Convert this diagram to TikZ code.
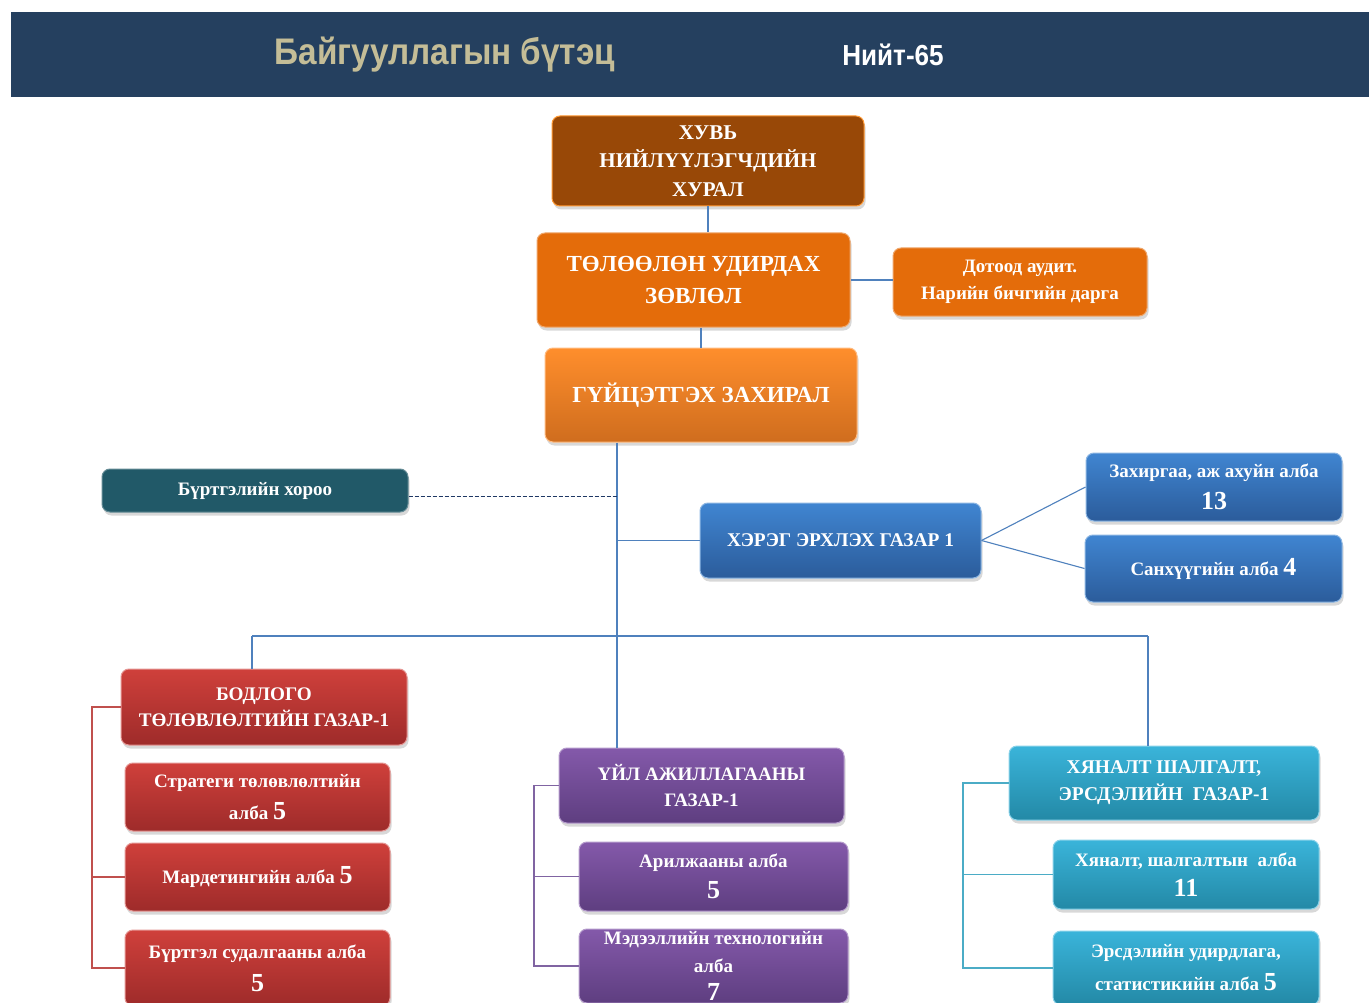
\documentclass[tikz,border=0pt]{standalone}
\usepackage{fontspec}
\setmainfont{Liberation Serif}
\newfontfamily\headfont[FakeStretch=0.9]{Liberation Sans}
\usetikzlibrary{shadows}

\definecolor{band}{HTML}{25405F}
\definecolor{bandtext}{HTML}{C4BD97}
\definecolor{linkblue}{HTML}{4F81BD}
\definecolor{brownfill}{HTML}{984807}
\definecolor{orangefill}{HTML}{E46C0A}
\definecolor{orangetop}{HTML}{FF8E2C}
\definecolor{orangebot}{HTML}{CF6D1E}
\definecolor{tealfill}{HTML}{215968}
\definecolor{bluetop}{HTML}{4085D1}
\definecolor{bluebot}{HTML}{2B5C9B}
\definecolor{redtop}{HTML}{CF403B}
\definecolor{redbot}{HTML}{9E2B2A}
\definecolor{redline}{HTML}{C0504D}
\definecolor{purptop}{HTML}{8459AA}
\definecolor{purpbot}{HTML}{5E3E80}
\definecolor{purpline}{HTML}{8064A2}
\definecolor{cyantop}{HTML}{3AB4DA}
\definecolor{cyanbot}{HTML}{2389A6}
\definecolor{cyanline}{HTML}{4BACC6}
\definecolor{dashnavy}{HTML}{1F3864}

\newcommand\bignum[1]{{\fontsize{26}{30}\selectfont #1}}

\begin{document}
\begin{tikzpicture}[x=1pt, y=-1pt,
  box/.style={rounded corners=8pt, text=white, align=center, inner sep=0pt, line width=1pt,
    drop shadow={shadow xshift=1.5pt, shadow yshift=-3.5pt, opacity=.3}},
  fs/.style 2 args={font=\fontsize{#1}{#2}\selectfont\bfseries},
  brownbox/.style={box, fill=brownfill, draw=orange!80!white},
  orangebox/.style={box, fill=orangefill, draw=orangefill!60!white},
  ambox/.style={box, top color=orangetop, bottom color=orangebot, draw=orangetop!60!white},
  tealbox/.style={box, fill=tealfill, draw=tealfill!70!white},
  bluebox/.style={box, top color=bluetop, bottom color=bluebot, draw=bluetop!60!white},
  redbox/.style={box, top color=redtop, bottom color=redbot, draw=redtop!55!white},
  purpbox/.style={box, top color=purptop, bottom color=purpbot, draw=purptop!60!white},
  cyanbox/.style={box, top color=cyantop, bottom color=cyanbot, draw=cyantop!60!white},
  link/.style={draw=linkblue, line width=1.1pt},
]
  \clip (0,0) rectangle (1369,1003);
  \fill[white] (0,0) rectangle (1369,1003);

  % header band
  \fill[band] (11,12) rectangle (1369,97);
  \node (title) [text=bandtext, font=\headfont\fontsize{37}{42}\selectfont\bfseries] at (445,55) {Байгууллагын бүтэц};
  \node (total) [text=white, font=\headfont\fontsize{29}{32}\selectfont\bfseries] at (893,55) {Нийт-65};

  % top of the tree
  \node (huvi) [brownbox, fs={21}{28.5}, minimum width=312pt, minimum height=90pt] at (708,161)
    {ХУВЬ\\НИЙЛҮҮЛЭГЧДИЙН\\ХУРАЛ};
  \node (tuz) [orangebox, fs={23}{32}, minimum width=313pt, minimum height=94pt] at (693.5,280)
    {ТӨЛӨӨЛӨН УДИРДАХ\\ЗӨВЛӨЛ};
  \node (audit) [orangebox, fs={19}{27}, minimum width=254pt, minimum height=68pt] at (1020,282)
    {Дотоод аудит.\\Нарийн бичгийн дарга};
  \node (gz) [ambox, fs={23}{32}, minimum width=312pt, minimum height=94pt] at (701,395)
    {ГҮЙЦЭТГЭХ ЗАХИРАЛ};
  \node (bur) [tealbox, fs={19}{27}, minimum width=306pt, minimum height=43pt] at (255,490.5)
    {Бүртгэлийн хороо};

  % administration
  \node (herg) [bluebox, fs={19.4}{27}, minimum width=281pt, minimum height=75pt] at (840.5,540.5)
    {ХЭРЭГ ЭРХЛЭХ ГАЗАР 1};
  \node (zah) [bluebox, fs={19}{32}, minimum width=256pt, minimum height=68pt] at (1214,487)
    {Захиргаа, аж ахуйн алба\\\bignum{13}};
  \node (san) [bluebox, fs={19}{32}, minimum width=257pt, minimum height=67pt] at (1213.5,568.5)
    {Санхүүгийн алба \bignum{4}};

  % policy
  \node (bod) [redbox, fs={19.2}{26}, minimum width=286pt, minimum height=76pt] at (264,707)
    {БОДЛОГО\\ТӨЛӨВЛӨЛТИЙН ГАЗАР-1};
  \node (str) [redbox, fs={19}{32}, minimum width=265pt, minimum height=68pt] at (257.5,797)
    {Стратеги төлөвлөлтийн\\алба \bignum{5}};
  \node (mard) [redbox, fs={19}{32}, minimum width=265pt, minimum height=68pt] at (257.5,877)
    {Мардетингийн алба \bignum{5}};
  \node (burt) [redbox, fs={19}{33}, minimum width=265pt, minimum height=76pt] at (257.5,968)
    {Бүртгэл судалгааны алба\\\bignum{5}};

  % operations
  \node (uil) [purpbox, fs={19}{26}, minimum width=285pt, minimum height=75pt] at (701.5,785.5)
    {ҮЙЛ АЖИЛЛАГААНЫ\\ГАЗАР-1};
  \node (ar) [purpbox, fs={19}{31}, minimum width=269pt, minimum height=69pt] at (713.5,876.5)
    {Арилжааны алба\\\bignum{5}};
  \node (mt) [purpbox, fs={19}{28}, minimum width=269pt, minimum height=74pt] at (713.5,966)
    {Мэдээллийн технологийн\\алба\\\bignum{7}};

  % control and risk
  \node (hyn) [cyanbox, fs={19.5}{27}, minimum width=310pt, minimum height=74pt] at (1164,783)
    {ХЯНАЛТ ШАЛГАЛТ,\\ЭРСДЭЛИЙН~~ГАЗАР-1};
  \node (hsh) [cyanbox, fs={19}{30}, minimum width=266pt, minimum height=69pt] at (1186,874.5)
    {Хяналт, шалгалтын~~алба\\\bignum{11}};
  \node (ers) [cyanbox, fs={19}{33}, minimum width=266pt, minimum height=74pt] at (1186,968)
    {Эрсдэлийн удирдлага,\\статистикийн алба \bignum{5}};

  % connectors
  \coordinate (trunk) at (617,0);
  \coordinate (busL) at (252,636);
  \coordinate (busR) at (1148,636);
  \coordinate (rb) at (92,0);
  \coordinate (pb) at (534,0);
  \coordinate (cb) at (963,0);

  \draw[link] (huvi.south) -- (huvi.south |- tuz.north);
  \draw[link] (tuz.east) -- (tuz.east -| audit.west);
  \draw[link] (gz.north) -- (gz.north |- tuz.south);
  \draw[link] (gz.south -| trunk) -- (trunk |- uil.north);
  \draw[dashnavy, line width=.8pt, dash pattern=on 4pt off 2pt] ([yshift=-6pt]bur.east) -- ([yshift=-6pt]bur.east -| trunk);
  \draw[link] (herg.west -| trunk) -- (herg.west);
  \draw[link] (herg.east) -- (zah.west);
  \draw[link] (herg.east) -- (san.west);
  \draw[link] (busL) -- (busR);
  \draw[link] (busL) -- (busL |- bod.north);
  \draw[link] (busR) -- (busR |- hyn.north);

  \draw[redline, line width=1.1pt] (bod.west) -- (bod.west -| rb) -- (rb |- burt.west) -- (burt.west);
  \draw[redline, line width=1.1pt] (rb |- mard.west) -- (mard.west);
  \draw[purpline, line width=1.1pt] (uil.west) -- (uil.west -| pb) -- (pb |- mt.west) -- (mt.west);
  \draw[purpline, line width=1.1pt] (pb |- ar.west) -- (ar.west);
  \draw[cyanline, line width=1.1pt] (hyn.west) -- (hyn.west -| cb) -- (cb |- ers.west) -- (ers.west);
  \draw[cyanline, line width=1.1pt] (cb |- hsh.west) -- (hsh.west);
\end{tikzpicture}
\end{document}
